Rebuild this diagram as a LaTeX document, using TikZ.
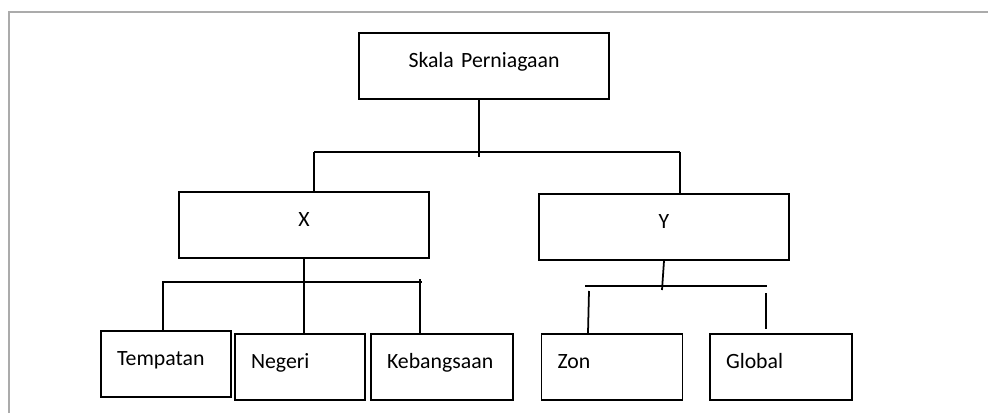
\documentclass[tikz,border=0pt]{standalone}
\usepackage{fontspec}
\setmainfont{Carlito}
\usepackage[dvipsnames]{xcolor}
\usepackage{tikz}

\tikzset{
  box/.style={draw, line width=1.1pt, inner ysep=0pt, text height=0.68cm, text depth=0.64cm,
    font=\fontsize{12.4}{14}\selectfont},
  wide/.style={box, inner xsep=0pt, text width=5cm, align=center},
  leaf/.style={box, inner xsep=0.32cm, text width=#1, align=left},
  conn/.style={line width=1pt},
  frame/.style={draw=black!33, line width=1.2pt}
}

\begin{document}
\begin{tikzpicture}[x=0.02cm, y=-0.02cm]
      \useasboundingbox (0, 0) rectangle (988, 413);
      \draw[frame] (9, 413) -- (9, 12) -- (988, 12);
      % boxes
      \node[wide] (top) at (484, 66) {Skala Perniagaan};
      \node[wide] (x) at (304, 225) {X};
      \node[wide] (y) at (664, 227) {Y};
      \node[leaf=1.96cm] (tmp) at (166, 364) {Tempatan};
      \node[leaf=1.96cm] (neg) at (300, 367) {Negeri};
      \node[leaf=2.2cm] (keb) at (442, 367) {Kebangsaan};
      \node[leaf=2.18cm] (zon) at (612, 367) {Zon};
      \node[leaf=2.2cm] (glo) at (781, 367) {Global};
      % top level
      \coordinate (m1) at (479, 157);
      \coordinate (b1l) at (314, 152);
      \coordinate (b1r) at (680, 152);
      \draw[conn] (top.south -| m1) -- (m1);
      \draw[conn] (b1l) -- (b1r);
      \draw[conn] (b1l) -- (b1l |- x.north);
      \draw[conn] (b1r) -- (b1r |- y.north);
      % under X
      \coordinate (b2l) at (162, 282);
      \coordinate (b2r) at (422, 282);
      \coordinate (k1) at (420, 279);
      \draw[conn] (b2l) -- (b2r);
      \draw[conn] (163, 282) -- (tmp.north -| 163, 0);
      \draw[conn] (x.south) -- (neg.north -| x.south);
      \draw[conn] (k1) -- (keb.north -| k1);
      % under Y
      \coordinate (m3) at (662, 290);
      \coordinate (b3l) at (585, 286);
      \coordinate (b3r) at (767, 286);
      \coordinate (z1) at (589, 291);
      \coordinate (g1) at (766, 293);
      \coordinate (g2) at (766, 329);
      \draw[conn] (y.south) -- (m3);
      \draw[conn] (b3l) -- (b3r);
      \draw[conn] (z1) -- (zon.north -| 588, 0);
      \draw[conn] (g1) -- (g2);
    \end{tikzpicture}
\end{document}
